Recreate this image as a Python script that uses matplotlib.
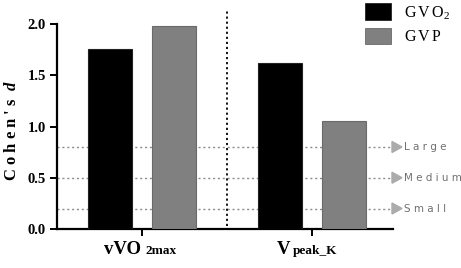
import matplotlib
matplotlib.use("Agg")
import matplotlib.pyplot as plt
from matplotlib.patches import Rectangle, Polygon

plt.rcParams["mathtext.fontset"] = "custom"
plt.rcParams["mathtext.bfit"] = "Liberation Serif:italic:bold"
plt.rcParams["mathtext.rm"] = "Liberation Serif"

categories = ["vVO", "V"]
cat_subs = ["2max", "peak_K"]
gvo2 = [1.76, 1.62]
gvp = [1.98, 1.05]
series_names = ["GVO", "GVP"]
thresholds = [0.8, 0.5, 0.2]
threshold_labels = ["Large", "Medium", "Small"]
yticks = [0.0, 0.5, 1.0, 1.5, 2.0]

W, H = 461, 268
fig = plt.figure(figsize=(W / 100, H / 100), dpi=100)

def fx(px):
    return px / W

def fy(py):
    return 1 - py / H

ax = fig.add_axes([fx(57), fy(229), fx(393) - fx(57), fy(24) - fy(229)])
serif = "Liberation Serif"

x = list(range(len(categories)))
bw = 0.26
off = 0.19
ax.bar([i - off for i in x], gvo2, width=bw, color="black", edgecolor="#222222", linewidth=0.8, zorder=3)
ax.bar([i + off for i in x], gvp, width=bw, color="#808080", edgecolor="#6a6a6a", linewidth=0.8, zorder=3)

ax.set_xlim(-0.5, 1.476)
ax.set_ylim(0, 2.0)

for s in ["top", "right"]:
    ax.spines[s].set_visible(False)
for s in ["left", "bottom"]:
    ax.spines[s].set_linewidth(1.6)

ax.set_yticks(yticks)
ax.set_yticklabels([f"{v:.1f}" for v in yticks], fontfamily=serif, fontweight="bold", fontsize=10.5)
ax.tick_params(axis="y", direction="out", length=5, width=1.4, pad=3)
ax.set_xticks(x)
ax.set_xticklabels([])
ax.tick_params(axis="x", direction="out", length=5, width=1.4)

# category labels
main_off = [-1, -22]
sub_off = [3, -19]
for i, (c, s) in enumerate(zip(categories, cat_subs)):
    ax.annotate(c, xy=(i, 0), xycoords=("data", "axes fraction"),
                xytext=(main_off[i] * 0.72, -25 * 0.72), textcoords="offset points",
                ha="right", va="baseline", fontfamily=serif, fontweight="bold", fontsize=13.5)
    ax.annotate(s, xy=(i, 0), xycoords=("data", "axes fraction"),
                xytext=(sub_off[i] * 0.72, -25 * 0.72), textcoords="offset points",
                ha="left", va="baseline", fontfamily=serif, fontweight="bold", fontsize=9.5)

# y label
fig.text(fx(12), fy(130), r"C o h e n ' s  $\mathbfit{d}$", rotation=90, ha="center", va="center",
         fontfamily=serif, fontweight="bold", fontsize=12)

# threshold lines
for t, lab in zip(thresholds, threshold_labels):
    ax.plot([-0.5, 1.47], [t, t], linestyle=(0, (1.5, 2.0)), color="#8c8c8c", linewidth=1.0,
            zorder=1, clip_on=False)
    ypx = 229 - t * 102.5
    tri = Polygon([[fx(392), fy(ypx - 5.5)], [fx(392), fy(ypx + 5.5)], [fx(402), fy(ypx)]],
                  closed=True, transform=fig.transFigure, color="#ababab", zorder=5)
    fig.patches.append(tri)
    fig.text(fx(404), fy(ypx), " ".join(lab), ha="left", va="center", fontfamily="DejaVu Sans",
             fontsize=7.5, color="#707070")

# vertical separator
ax.plot([0.5, 0.5], [0.03, 2.14], linestyle=(0, (1.2, 1.6)), color="black", linewidth=1.3,
        zorder=2, clip_on=False)

# legend
fig.patches.append(Rectangle((fx(365), fy(20)), fx(26), fy(3) - fy(20), transform=fig.transFigure,
                             facecolor="black", edgecolor="#222222", linewidth=0.6))
fig.patches.append(Rectangle((fx(365), fy(44)), fx(26), fy(28) - fy(44), transform=fig.transFigure,
                             facecolor="#808080", edgecolor="#6a6a6a", linewidth=0.6))

def spaced(text, x0, ybase, step_extra, size, **kw):
    # place characters with extra letter spacing
    from matplotlib.textpath import TextPath
    from matplotlib.font_manager import FontProperties
    fp = FontProperties(family=serif, size=size)
    xpos = x0
    for ch in text:
        fig.text(fx(xpos), fy(ybase), ch, ha="left", va="baseline", fontproperties=fp, **kw)
        w = TextPath((0, 0), ch, prop=fp).get_extents().width * 100 / 72
        xpos += w + step_extra
    return xpos

end = spaced(series_names[0], 404, 17, 3.0, 11.5)
fig.text(fx(end - 1.5), fy(19), "2", ha="left", va="baseline", fontfamily=serif, fontsize=8)
spaced(series_names[1], 404, 41, 3.0, 11.5)

fig.savefig("out.png", dpi=100)
